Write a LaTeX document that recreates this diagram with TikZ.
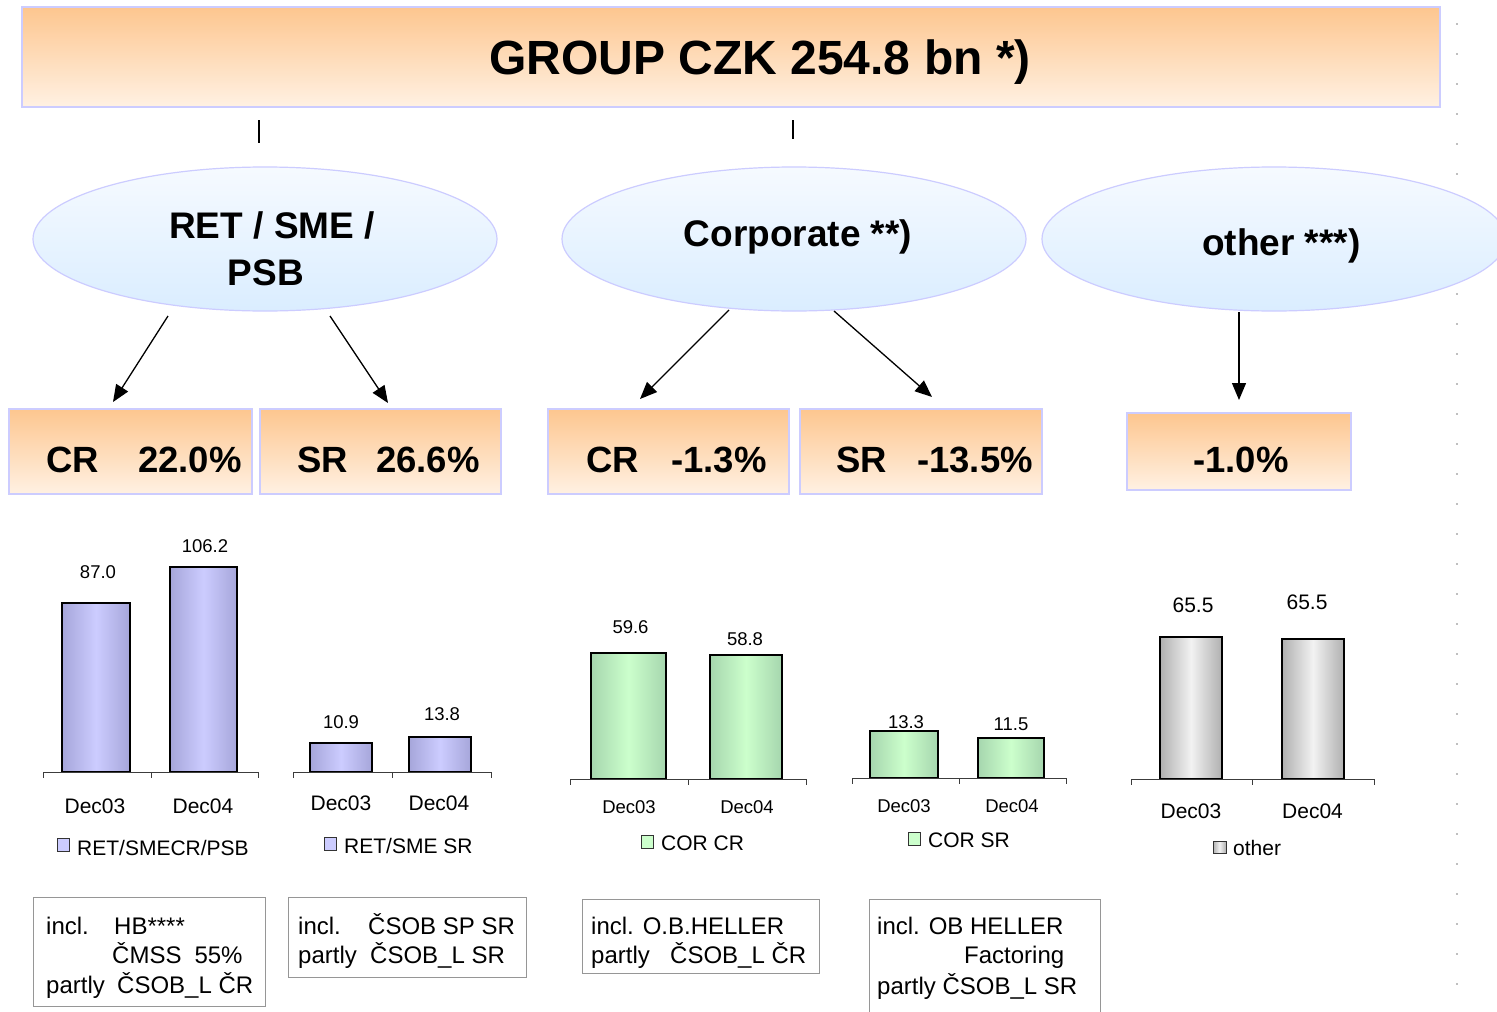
\documentclass[tikz,border=0pt]{standalone}
\usepackage{fontspec}
\setmainfont{Liberation Sans}
\usetikzlibrary{shapes.geometric,arrows.meta}
\definecolor{orTop}{RGB}{253,198,143}
\definecolor{orBot}{RGB}{255,241,227}
\definecolor{lav}{RGB}{204,204,255}
\definecolor{bluTop}{RGB}{246,250,255}
\definecolor{bluBot}{RGB}{218,237,255}
\definecolor{pMid}{RGB}{204,204,255}
\definecolor{pEdge}{RGB}{166,166,218}
\definecolor{gMid}{RGB}{204,255,204}
\definecolor{gEdge}{RGB}{166,214,174}
\definecolor{kMid}{RGB}{242,242,242}
\definecolor{kEdge}{RGB}{176,176,176}
\definecolor{boxgray}{RGB}{150,150,150}
\definecolor{axisgray}{RGB}{60,60,60}
\newcommand\fsz[1]{\fontsize{#1}{#1}\selectfont}
\begin{document}
\begin{tikzpicture}[x=1pt,y=-1pt,
  hdr/.style={draw=lav, line width=1.2pt, top color=orTop, bottom color=orBot, inner sep=0pt},
  ell/.style={ellipse, draw=lav, line width=1.2pt, top color=bluTop, bottom color=bluBot,
              minimum width=464pt, minimum height=144pt, inner sep=0pt},
  txt/.style={inner sep=0pt, anchor=base west},
  ctxt/.style={inner sep=0pt, anchor=base},
  big/.style={font=\fsz{48}\bfseries},
  ellt/.style={font=\fsz{37}\bfseries},
  pctt/.style={font=\fsz{36.5}\bfseries},
  val/.style={font=\fsz{18.5}},
  cat/.style={font=\fsz{21}},
  note/.style={draw=boxgray, line width=1pt},
  notet/.style={font=\fsz{24}},
  arr/.style={line width=1.3pt, -{Triangle[length=17pt,width=14pt]}},
  tick/.style={line width=1pt, draw=axisgray},
  barP/.style={draw=black, line width=1.4pt, left color=pEdge, right color=pEdge, middle color=pMid},
  barG/.style={draw=black, line width=1.4pt, left color=gEdge, right color=gEdge, middle color=gMid},
  barK/.style={draw=black, line width=1.4pt, left color=kEdge, right color=kEdge, middle color=kMid},
  legsq/.style={draw=black!80, line width=1pt}
]
\useasboundingbox (0,0) rectangle (1497,1012);
\fill[white] (0,0) rectangle (1497,1012);

% right dotted margin
\foreach \k in {0,...,32}{
  \fill[black!25] (1456,{23+30*\k}) rectangle (1458,{25+30*\k});
}

% title
\node[hdr, minimum width=1418pt, minimum height=100pt] (group) at (731,57) {};
\node[ctxt, big] (grouptxt) at (760,74) {GROUP CZK 254.8 bn *)};

\coordinate (t1a) at (259,120); \coordinate (t1b) at (259,143);
\coordinate (t2a) at (793,120); \coordinate (t2b) at (793,139);
\draw[line width=1.2pt] (t1a) -- (t1b);
\draw[line width=1.2pt] (t2a) -- (t2b);

% ellipses
\node[ell] (ret) at (265,239) {};
\node[ell] (cor) at (794,239) {};
\node[ell] (oth) at (1274,239) {};
\node[ctxt, ellt] (rett1) at (272,238) {RET / SME /};
\node[ctxt, ellt] (rett2) at (266,285) {PSB};
\node[ctxt, ellt] (cortxt) at (798,246) {Corporate **)};
\node[txt, ellt] (othtxt) at (1202,255) {other ***)};

% percentage boxes
\node[hdr, minimum width=243pt, minimum height=85pt] (pb1) at (130.5,451.5) {};
\node[hdr, minimum width=241pt, minimum height=85pt] (pb2) at (380.5,451.5) {};
\node[hdr, minimum width=241pt, minimum height=85pt] (pb3) at (668.5,451.5) {};
\node[hdr, minimum width=242pt, minimum height=85pt] (pb4) at (921,451.5) {};
\node[hdr, minimum width=224pt, minimum height=77pt] (pb5) at (1239,451.5) {};
\node[txt, pctt] (pt1) at (46,472) {\makebox[92pt][l]{CR}22.0\%};
\node[txt, pctt] (pt2) at (297,472) {\makebox[79pt][l]{SR}26.6\%};
\node[txt, pctt] (pt3) at (586,472) {\makebox[85pt][l]{CR}-1.3\%};
\node[txt, pctt] (pt4) at (836,472) {\makebox[81pt][l]{SR}-13.5\%};
\node[txt, pctt] (pt5) at (1193,472) {-1.0\%};

% arrows
\coordinate (a1s) at (168,316); \coordinate (a1e) at (113,402);
\coordinate (a2s) at (330,316); \coordinate (a2e) at (388,403);
\coordinate (a3s) at (729,310); \coordinate (a3e) at (640,399);
\coordinate (a4s) at (834,311); \coordinate (a4e) at (932,397);
\coordinate (a5s) at (1239,312); \coordinate (a5e) at (1239,400);
\draw[arr] (a1s) -- (a1e);
\draw[arr] (a2s) -- (a2e);
\draw[arr] (a3s) -- (a3e);
\draw[arr] (a4s) -- (a4e);
\draw[arr] (a5s) -- (a5e);

% chart 1: RET/SMECR/PSB
\draw[barP] (62,772) rectangle (130,603);
\draw[barP] (170,772) rectangle (237,567);
\draw[tick] (43,772) -- (258,772);
\foreach \x in {43,151,258} \draw[tick] (\x,772) -- (\x,778);
\node[ctxt, val] (v11) at (98,578) {87.0};
\node[ctxt, val] (v12) at (205,552) {106.2};
\node[ctxt, cat] (c11) at (95,813) {Dec03};
\node[ctxt, cat] (c12) at (203,813) {Dec04};
\draw[legsq, fill=pMid] (57,838) rectangle (69,851);
\node[txt, cat] (l1) at (77,855) {RET/SMECR/PSB};

% chart 2: RET/SME SR
\draw[barP] (310,772) rectangle (372,743);
\draw[barP] (409,772) rectangle (471,737);
\draw[tick] (293,772) -- (491,772);
\foreach \x in {293,392,491} \draw[tick] (\x,772) -- (\x,778);
\node[ctxt, val] (v21) at (341,728) {10.9};
\node[ctxt, val] (v22) at (442,720) {13.8};
\node[ctxt, cat] (c21) at (341,810) {Dec03};
\node[ctxt, cat] (c22) at (439,810) {Dec04};
\draw[legsq, fill=pMid] (324,837) rectangle (336,850);
\node[txt, cat] (l2) at (344,853) {RET/SME SR};

% chart 3: COR CR
\draw[barG] (591,779) rectangle (666,653);
\draw[barG] (710,779) rectangle (782,655);
\draw[tick] (570,779) -- (806,779);
\foreach \x in {570,688,806} \draw[tick] (\x,779) -- (\x,785);
\node[ctxt, val] (v31) at (630.5,633) {59.6};
\node[ctxt, val] (v32) at (745,645) {58.8};
\node[ctxt, val] (c31) at (629,813) {Dec03};
\node[ctxt, val] (c32) at (747,813) {Dec04};
\draw[legsq, fill=gMid] (641,835) rectangle (653,848);
\node[txt, cat] (l3) at (661,850) {COR CR};

% chart 4: COR SR
\draw[barG] (870,778) rectangle (938,731);
\draw[barG] (978,778) rectangle (1044,738);
\draw[tick] (852,778) -- (1066,778);
\foreach \x in {852,959,1066} \draw[tick] (\x,778) -- (\x,784);
\node[ctxt, val] (v41) at (906,728) {13.3};
\node[ctxt, val] (v42) at (1011,730) {11.5};
\node[ctxt, val] (c41) at (904,812) {Dec03};
\node[ctxt, val] (c42) at (1012,812) {Dec04};
\draw[legsq, fill=gMid] (908,832) rectangle (920,845);
\node[txt, cat] (l4) at (928,847) {COR SR};

% chart 5: other
\draw[barK] (1160,779) rectangle (1222,637);
\draw[barK] (1282,779) rectangle (1344,639);
\draw[tick] (1131,779) -- (1374,779);
\foreach \x in {1131,1252,1374} \draw[tick] (\x,779) -- (\x,785);
\node[ctxt, cat] (v51) at (1193,612) {65.5};
\node[ctxt, cat] (v52) at (1307,609) {65.5};
\node[ctxt, cat] (c51) at (1191,818) {Dec03};
\node[ctxt, cat] (c52) at (1312.5,818) {Dec04};
\draw[legsq, left color=kEdge, right color=kEdge, middle color=kMid] (1213,841) rectangle (1226,853);
\node[txt, cat] (l5) at (1233,855) {other};

% note boxes
\draw[note] (33,897) rectangle (265,1006);
\node[txt, notet] (n11) at (46,934) {\makebox[68pt][l]{incl.}HB****};
\node[txt, notet] (n12) at (112,963) {ČMSS\hspace{13pt}55\%};
\node[txt, notet] (n13) at (46,993) {\makebox[71pt][l]{partly}ČSOB\_L ČR};

\draw[note] (288,897) rectangle (526,977);
\node[txt, notet] (n21) at (298,934) {\makebox[70pt][l]{incl.}ČSOB SP SR};
\node[txt, notet] (n22) at (298,963) {\makebox[72pt][l]{partly}ČSOB\_L SR};

\draw[note] (582,899) rectangle (819,973);
\node[txt, notet] (n31) at (591,934) {incl. O.B.HELLER};
\node[txt, notet] (n32) at (591,963) {\makebox[79pt][l]{partly}ČSOB\_L ČR};

\draw[note] (869,899) rectangle (1100,1030);
\node[txt, notet] (n41) at (877,934) {incl. OB HELLER};
\node[txt, notet] (n42) at (964,963) {Factoring};
\node[txt, notet] (n43) at (877,994) {partly ČSOB\_L SR};
\end{tikzpicture}
\end{document}
